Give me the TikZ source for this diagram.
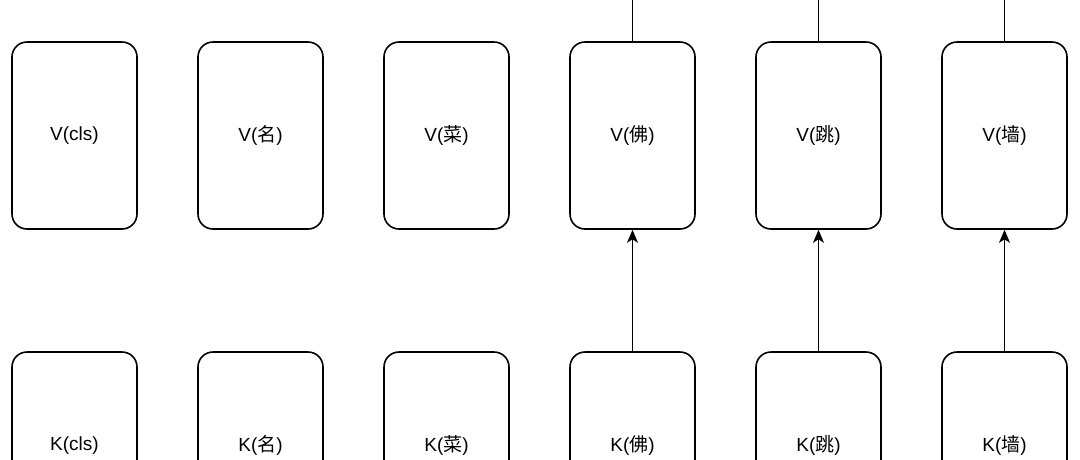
\documentclass[tikz,border=0pt]{standalone}
\usepackage{fontspec}
\setmainfont{Liberation Sans}
\newfontfamily\cjk{Noto Sans CJK SC}
\usetikzlibrary{arrows.meta}
\begin{document}
\begin{tikzpicture}[x=1pt,y=1pt,
  card/.style={draw=black, line width=1.6pt, rounded corners=15pt, fill=white,
    minimum width=125pt, minimum height=187pt, inner sep=0pt, font=\fontsize{19}{22}\selectfont},
  conn/.style={draw=black, line width=1.6pt},
  arr/.style={conn, -{Stealth[length=13pt,width=11pt,inset=3.5pt]}}]
\useasboundingbox (0,0) rectangle (1080,-459);
\clip (0,0) rectangle (1080,-459);
\fill[white] (0,0) rectangle (1080,-459);
\node[card] (v1) at (74.5,-135.5) {V(cls)};
\node[card] (v2) at (260.5,-135.5) {V({\cjk 名})};
\node[card] (v3) at (446.5,-135.5) {V({\cjk 菜})};
\node[card] (v4) at (632.5,-135.5) {V({\cjk 佛})};
\node[card] (v5) at (818.5,-135.5) {V({\cjk 跳})};
\node[card] (v6) at (1004.5,-135.5) {V({\cjk 墙})};
\node[card] (k1) at (74.5,-445.5) {K(cls)};
\node[card] (k2) at (260.5,-445.5) {K({\cjk 名})};
\node[card] (k3) at (446.5,-445.5) {K({\cjk 菜})};
\node[card] (k4) at (632.5,-445.5) {K({\cjk 佛})};
\node[card] (k5) at (818.5,-445.5) {K({\cjk 跳})};
\node[card] (k6) at (1004.5,-445.5) {K({\cjk 墙})};
\coordinate (t4) at (632.5,10);
\coordinate (t5) at (818.5,10);
\coordinate (t6) at (1004.5,10);
\draw[conn] (v4.north) -- (t4);
\draw[conn] (v5.north) -- (t5);
\draw[conn] (v6.north) -- (t6);
\draw[arr] (k4.north) -- (v4.south);
\draw[arr] (k5.north) -- (v5.south);
\draw[arr] (k6.north) -- (v6.south);
\end{tikzpicture}
\end{document}
